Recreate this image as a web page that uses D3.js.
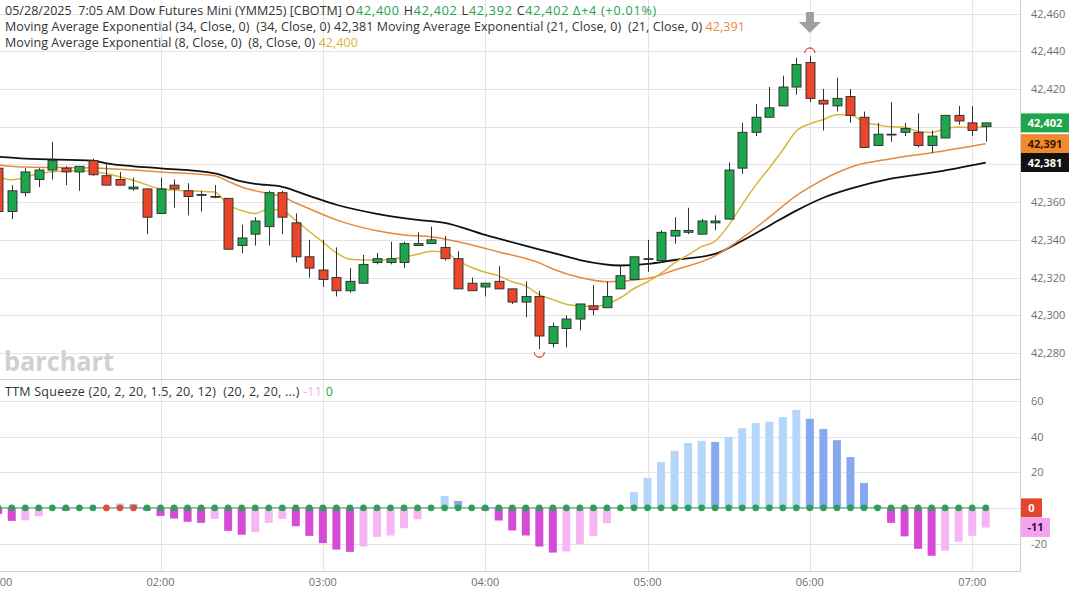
<!DOCTYPE html>
<html>
<head>
<meta charset="utf-8">
<script src="https://cdn.jsdelivr.net/npm/d3@7"></script>
<style>
  body { margin: 0; background: #fff; }
  svg { font-family: "Open Sans", "Noto Sans", sans-serif; }
</style>
</head>
<body>
<svg id="chart" width="1069" height="594"></svg>
<script>
// 5 minute bars, 01:00 -> 07:05
var openP  = [42378,42355,42365,42372,42377,42378,42376,42382,42374,42372,42367,42367,42354,42369,42366,42364,42363,42362,42337,42343,
              42347,42365,42349,42331,42324,42320,42313,42317,42328,42328,42328,42337,42338,42336,42330,42317,42315,42318,42314,42307,
              42310,42285,42293,42298,42305,42304,42314,42319,42330,42329,42342,42344,42343,42349,42351,42378,42397,42405,42411,42421,
              42434,42414,42411,42416,42405,42390,42396,42397,42397,42390,42394,42406,42402,42400];
var highP  = [42381,42369,42378,42378,42392,42379,42379,42383,42380,42376,42373,42367,42373,42372,42370,42366,42369,42362,42348,42352,
              42366,42366,42354,42340,42340,42336,42325,42332,42333,42339,42339,42344,42347,42342,42334,42320,42317,42326,42314,42318,
              42313,42296,42300,42306,42316,42318,42326,42331,42340,42345,42352,42357,42351,42353,42381,42402,42412,42421,42427,42436.5,
              42437.5,42420,42426,42420,42408,42402,42413,42402,42407,42398,42406,42411,42411,42402];
var lowP   = [42352,42351,42363,42368,42372,42369,42366,42374,42369,42369,42366,42343,42354,42357,42353,42355,42362,42335,42333,42337,
              42337,42343,42328,42320,42315,42310,42312,42317,42327,42327,42325,42337,42338,42329,42314,42313,42310,42314,42306,42299,
              42282,42283,42283,42292,42300,42304,42314,42319,42323,42329,42338,42343,42343,42345,42351,42375,42395,42405,42411,42417,
              42413,42398,42408,42402,42389,42390,42392,42395,42389,42386,42394,42401,42395,42392];
var closeP = [42355,42366,42376,42377,42382,42376,42379,42374.5,42369,42369,42368,42352,42367,42367,42363,42364,42363,42335,42341,42350,
              42365,42352,42331,42325,42319,42313,42318,42327,42330,42330,42338,42338,42340,42330,42314,42313,42317,42314,42307,42310,
              42289,42294,42298,42306,42303,42310,42321,42331,42330,42344,42345,42345,42350,42350,42377,42397,42405,42410,42421,42433,
              42415,42412,42415,42406,42389,42396,42396,42399,42390,42395,42406,42403,42398,42402];

// moving averages (bar index, value)
var ema34Idx = [0,2,7,8,10,12,16,18,19,21,23,25,28,31,33,36,39,41,43,46,48,50,53,55,57,59,61,63,66,69,73];
var ema34Val = [42384.1,42383.1,42382,42380.5,42379,42377.9,42375.2,42371,42369.7,42368.1,42363.3,42358.6,42353.8,42350.6,42349,
                42342.6,42336.8,42333.1,42329.3,42326.4,42327.2,42329.3,42332.5,42339.5,42347.5,42355.5,42362.3,42367.1,42372.4,42375.6,42381];
var ema21Idx = [0,2,7,10,12,16,17,18,20,21,22,23,25,28,30,32,35,37,40,41,43,45,48,50,53,55,57,59,60,63,66,69,73];
var ema21Val = [42379.7,42378.6,42378.1,42377,42376,42374,42371,42368,42364.5,42363,42359.5,42356.5,42350.6,42344.8,42342.6,42341.6,
                42337.3,42333.6,42327.8,42324.5,42320,42317.8,42319.5,42324,42331.5,42341,42352,42363.5,42368,42378.5,42383,42386.2,42391];
var ema8Idx  = [0,1,3,4,6,7,9,10,12,14,16,17,18,19,20,21,22,23,24,25,26,27,28,29,30,31,32,33,34,35,36,37,38,39,40,41,42,43,44,45,46,47,
                48,49,50,51,52,53,54,55,56,57,58,59,60,61,62,63,64,65,66,67,68,69,70,71,72,73];
var ema8Val  = [42373.4,42371.8,42375,42376.1,42376.6,42376.2,42373.4,42371.5,42367.1,42366,42365.3,42358.6,42355.5,42354,42356.4,
                42355.4,42350.3,42344.4,42338.8,42333.1,42329.7,42329.3,42329.3,42329.6,42330.8,42332.3,42334,42333.4,42328.8,42325.3,
                42322.8,42320.9,42317.8,42315.6,42310.9,42308.3,42305.9,42305,42304.6,42306,42309.3,42314.2,42317.7,42322.2,42327.8,
                42332,42336.4,42339.3,42347.8,42358.7,42369,42378.1,42387.6,42397.7,42401.5,42403.8,42406.3,42406.2,42402.4,42401,
                42399.9,42399.7,42397.5,42396.9,42398.9,42399.8,42399.4,42400];

// TTM squeeze histogram and the bars where the squeeze dot is red
var ttmVal = [-3.4,-7.3,-7.0,-4.7,-0.5,-1.6,0,0,0,2.5,2,-1.5,-4.5,-6,-7.8,-8.4,-6.2,-12.9,-15.1,-13.6,
              -8.4,-6.2,-10.3,-15.7,-19.8,-23.4,-24.7,-21.7,-16.3,-15.5,-11.4,-6.4,-0.5,6.7,3.9,0,-1.5,-7.1,-12.7,-15.5,
              -21.7,-25.1,-24.5,-20.4,-15.7,-8.6,-0.5,9,16.8,25.8,32,36.4,37.6,37,39.8,44.7,47.6,48.4,51,55,
              50,44.3,38,28.5,14,1.3,-8.4,-16,-23,-26.9,-24,-19,-15.7,-11];
var squeezeRed = [8,9,10];

var priceTicks = [42280,42300,42320,42340,42360,42380,42400,42420,42440,42460];
var priceTickLabels = ["42,280","42,300","42,320","42,340","42,360","","","42,420","42,440","42,460"];
var ttmTicks = [-20,0,20,40,60];
var ttmTickLabels = ["-20","","20","40","60"];
var hourLabels = ["01:00","02:00","03:00","04:00","05:00","06:00","07:00"];

var lastClose = 42402, lastEma21 = 42391, lastEma34 = 42381, lastTtm = -11, lastDot = 0;

var t0 = new Date(2025, 4, 28, 1, 0);
var barTimes = d3.timeMinute.every(5).range(t0, new Date(2025, 4, 28, 7, 10));
var hourTimes = d3.timeHour.range(t0, new Date(2025, 4, 28, 7, 30));

var svg = d3.select("#chart");
var plotRight = 1020, priceBottom = 379, ttmTop = 380, ttmBottom = 571;

var x = d3.scaleTime().domain([t0, new Date(2025, 4, 28, 7, 0)]).range([-1.8, 972.2]);
var y = d3.scaleLinear().domain([42280, 42460]).range([353, 13.5]);
var yt = d3.scaleLinear().domain([-20, 60]).range([543.5, 401]);

var grid = "#e4e4e4", axisLine = "#cfcfcf", tickText = "#707070";
var green = "#1fa64d", red = "#e9462c", candleEdge = "#2a2a2a";

svg.append("defs").append("clipPath").attr("id", "priceClip")
  .append("rect").attr("x", 0).attr("y", 0).attr("width", plotRight).attr("height", priceBottom);
svg.select("defs").append("clipPath").attr("id", "ttmClip")
  .append("rect").attr("x", 0).attr("y", ttmTop).attr("width", plotRight).attr("height", ttmBottom - ttmTop);

// grid lines
svg.append("g").selectAll("line").data(priceTicks).enter().append("line")
  .attr("x1", 0).attr("x2", plotRight)
  .attr("y1", function(d) { return Math.round(y(d)) + 0.5; })
  .attr("y2", function(d) { return Math.round(y(d)) + 0.5; })
  .attr("stroke", grid);
svg.append("g").selectAll("line").data(ttmTicks).enter().append("line")
  .attr("x1", 0).attr("x2", plotRight)
  .attr("y1", function(d) { return Math.round(yt(d)) + 0.5; })
  .attr("y2", function(d) { return Math.round(yt(d)) + 0.5; })
  .attr("stroke", grid);
svg.append("g").selectAll("line").data(hourTimes).enter().append("line")
  .attr("x1", function(d) { return Math.round(x(d)) + 0.5; })
  .attr("x2", function(d) { return Math.round(x(d)) + 0.5; })
  .attr("y1", 0).attr("y2", ttmBottom)
  .attr("stroke", grid);

// frame
svg.append("line").attr("x1", plotRight + 0.5).attr("x2", plotRight + 0.5).attr("y1", 0).attr("y2", ttmBottom + 1).attr("stroke", axisLine);
svg.append("line").attr("x1", 0).attr("x2", plotRight).attr("y1", priceBottom + 0.5).attr("y2", priceBottom + 0.5).attr("stroke", axisLine);
svg.append("line").attr("x1", 0).attr("x2", plotRight).attr("y1", ttmBottom + 0.5).attr("y2", ttmBottom + 0.5).attr("stroke", axisLine);

// watermark
svg.append("text").attr("x", 4).attr("y", 371).attr("textLength", 110).attr("lengthAdjust", "spacingAndGlyphs")
  .attr("font-size", 26).attr("font-weight", 700).attr("fill", "#d0d0d0").text("barchart");

// price panel
var pricePlot = svg.append("g").attr("clip-path", "url(#priceClip)");

var emaLine = function(idx, vals) {
  var pts = idx.map(function(d, k) { return [x(barTimes[d]), y(vals[k])]; });
  return d3.line().curve(d3.curveMonotoneX)(pts);
};
pricePlot.append("path").attr("d", emaLine(ema34Idx, ema34Val)).attr("fill", "none").attr("stroke", "#111").attr("stroke-width", 1.8);
pricePlot.append("path").attr("d", emaLine(ema21Idx, ema21Val)).attr("fill", "none").attr("stroke", "#e8893c").attr("stroke-width", 1.5);
pricePlot.append("path").attr("d", emaLine(ema8Idx, ema8Val)).attr("fill", "none").attr("stroke", "#d8b53c").attr("stroke-width", 1.5);

var bars = d3.range(openP.length);
var candle = pricePlot.selectAll("g.candle").data(bars).enter().append("g").attr("class", "candle");
candle.append("line")
  .attr("x1", function(i) { return Math.round(x(barTimes[i])) + 0.5; })
  .attr("x2", function(i) { return Math.round(x(barTimes[i])) + 0.5; })
  .attr("y1", function(i) { return y(highP[i]); })
  .attr("y2", function(i) { return y(lowP[i]); })
  .attr("stroke", "#333").attr("stroke-width", 1);
candle.append("rect")
  .attr("x", function(i) { return Math.round(x(barTimes[i])) - 4; })
  .attr("width", 9)
  .attr("y", function(i) { return y(Math.max(openP[i], closeP[i])); })
  .attr("height", function(i) { return Math.max(0.8, Math.abs(y(openP[i]) - y(closeP[i]))); })
  .attr("fill", function(i) { return closeP[i] >= openP[i] ? green : red; })
  .attr("stroke", candleEdge).attr("stroke-width", 0.9);

// high / low markers
var hiI = d3.maxIndex(highP), loI = d3.minIndex(lowP);
pricePlot.append("path")
  .attr("transform", "translate(" + x(barTimes[hiI]) + "," + (y(highP[hiI]) - 3) + ")")
  .attr("d", d3.arc()({innerRadius: 5, outerRadius: 5, startAngle: -Math.PI / 2, endAngle: Math.PI / 2}))
  .attr("fill", "none").attr("stroke", "#e0553a").attr("stroke-width", 1);
pricePlot.append("path")
  .attr("transform", "translate(" + x(barTimes[loI]) + "," + (y(lowP[loI]) + 3) + ")")
  .attr("d", d3.arc()({innerRadius: 5, outerRadius: 5, startAngle: Math.PI / 2, endAngle: Math.PI * 1.5}))
  .attr("fill", "none").attr("stroke", "#e0553a").attr("stroke-width", 1);

// gray arrow over the high bar
var ax = x(barTimes[hiI]);
svg.append("path")
  .attr("d", "M" + (ax - 4) + ",12 L" + (ax + 4) + ",12 L" + (ax + 4) + ",22 L" + (ax + 11) + ",22 L" + ax + ",33 L" + (ax - 11) + ",22 L" + (ax - 4) + ",22 Z")
  .attr("fill", "#a0a0a0");

// TTM panel
var ttmPlot = svg.append("g").attr("clip-path", "url(#ttmClip)");
var histColor = function(i) {
  var v = ttmVal[i], prev = i > 0 ? ttmVal[i - 1] : 0;
  if (v >= 0) return v >= prev ? "#b5d6f8" : "#86a8ef";
  return v <= prev ? "#d64bd6" : "#f7b6f3";
};
ttmPlot.selectAll("rect.h").data(bars).enter().append("rect").attr("class", "h")
  .attr("x", function(i) { return x(barTimes[i]) - 4; })
  .attr("width", 8)
  .attr("y", function(i) { return yt(Math.max(0, ttmVal[i])); })
  .attr("height", function(i) { return Math.abs(yt(ttmVal[i]) - yt(0)); })
  .attr("fill", histColor);
ttmPlot.append("line")
  .attr("x1", x(barTimes[0])).attr("x2", x(barTimes[bars.length - 1]))
  .attr("y1", yt(0)).attr("y2", yt(0))
  .attr("stroke", "#2f9e5a").attr("stroke-width", 1);
ttmPlot.selectAll("circle").data(bars).enter().append("circle")
  .attr("cx", function(i) { return x(barTimes[i]); })
  .attr("cy", yt(0))
  .attr("r", 3.3)
  .attr("fill", function(i) { return squeezeRed.indexOf(i) >= 0 ? "#e4493b" : "#2f9e5a"; });

// right axis labels
svg.append("g").selectAll("text").data(priceTicks).enter().append("text")
  .attr("x", 1031).attr("y", function(d) { return y(d) + 4; })
  .attr("font-size", 11).attr("fill", tickText)
  .text(function(d, k) { return priceTickLabels[k]; });
svg.append("g").selectAll("text").data(ttmTicks).enter().append("text")
  .attr("x", 1031).attr("y", function(d) { return yt(d) + 4; })
  .attr("font-size", 11).attr("fill", tickText)
  .text(function(d, k) { return ttmTickLabels[k]; });

// time labels (the first one sits on the left edge, as in the source)
svg.append("g").selectAll("text").data(hourTimes).enter().append("text")
  .attr("x", function(d) { return x(d); }).attr("y", 586)
  .attr("text-anchor", "middle").attr("font-size", 11).attr("fill", tickText)
  .text(function(d, k) { return hourLabels[k]; });

// value badges
var badge = function(yy, w, val, bg, fg) {
  svg.append("rect").attr("x", plotRight + 1).attr("y", yy - 9.5).attr("width", w).attr("height", 19).attr("fill", bg);
  svg.append("text").attr("x", plotRight + 1 + w / 2).attr("y", yy + 4).attr("text-anchor", "middle")
    .attr("font-size", 11).attr("font-weight", 700).attr("fill", fg).text(val);
};
badge(y(lastClose), 48, d3.format(",")(lastClose), "#1fa64d", "#fff");
badge(y(lastEma21), 48, d3.format(",")(lastEma21), "#f08a2e", "#3a1500");
badge(y(lastEma34), 48, d3.format(",")(lastEma34), "#121212", "#fff");
badge(yt(lastDot), 21, String(lastDot), "#e4452f", "#fff");
badge(yt(lastTtm), 29, String(lastTtm), "#f5a3f1", "#3a0b3a");

// legends, each spread with letter spacing so it ends where the source text ends
var legend = function(x0, yy, xEnd, parts) {
  var t = svg.append("text").attr("x", x0).attr("y", yy).attr("font-size", 12.5).attr("fill", "#333").attr("xml:space", "preserve");
  parts.forEach(function(p) { t.append("tspan").attr("fill", p[1] || "#333").text(p[0]); });
  var n = t.text().length, s = 0;
  for (var k = 0; k < 3; k++) {
    var b = t.node().getBBox();
    s += (xEnd - (b.x + b.width)) / n;
    t.attr("letter-spacing", Math.max(0, s).toFixed(3));
  }
  return t;
};
var lg = "#22a24c";
legend(5, 15, 355, [["05/28/2025  7:05 AM Dow Futures Mini (YMM25) [CBOTM] O"]]);
legend(356, 15, 657, [["42,400", lg], [" H"], ["42,402", lg], [" L"], ["42,392", lg], [" C"], ["42,402", lg], [" \u0394+4 (+0.01%)", lg]]);
legend(5, 31, 745, [["Moving Average Exponential (34, Close, 0)  (34, Close, 0) 42,381 Moving Average Exponential (21, Close, 0)  (21, Close, 0) "],
                    ["42,391", "#e8893c"]]);
legend(5, 47, 358, [["Moving Average Exponential (8, Close, 0)  (8, Close, 0) "], ["42,400", "#d8b53c"]]);
legend(5, 396, 333, [["TTM Squeeze (20, 2, 20, 1.5, 20, 12)  (20, 2, 20, ...) "], ["-11", "#f5b0f0"], [" "], ["0", "#2f9e5a"]]);
</script>
</body>
</html>
